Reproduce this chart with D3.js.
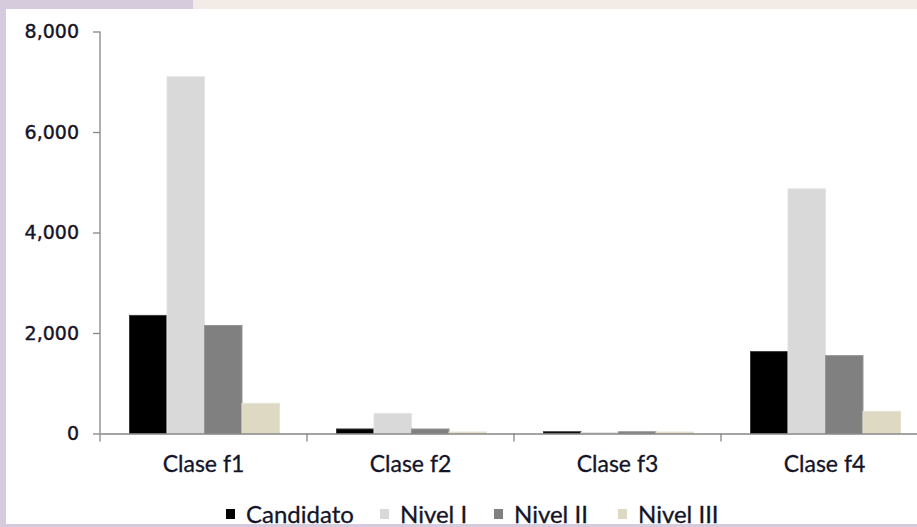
<!DOCTYPE html>
<html>
<head>
<meta charset="utf-8">
<script src="https://cdn.jsdelivr.net/npm/d3@7"></script>
<style>
  body { margin: 0; background: #d6cbdc; }
  svg { display: block; }
</style>
</head>
<body>
<svg id="chart" width="917" height="527"></svg>
<script>
// data
var categories = ["Clase f1", "Clase f2", "Clase f3", "Clase f4"];
var seriesNames = ["Candidato", "Nivel I", "Nivel II", "Nivel III"];
var candidato = [2350, 90, 35, 1630];
var nivelI = [7100, 400, 20, 4870];
var nivelII = [2150, 90, 35, 1550];
var nivelIII = [600, 30, 30, 440];
var yTicks = [0, 2000, 4000, 6000, 8000];

var seriesValues = [candidato, nivelI, nivelII, nivelIII];
var fills = ["#000000", "#d9d9d9", "#808080", "#ddd9c3"];
var strokes = ["#3a3a3a", "#e4e4e4", "#959595", "#e6e2d2"];

var svg = d3.select("#chart");

// background bits around the white panel
svg.append("rect").attr("x", 0).attr("y", 0).attr("width", 917).attr("height", 527).attr("fill", "#d6cbdc");
svg.append("rect").attr("x", 193).attr("y", 0).attr("width", 724).attr("height", 10).attr("fill", "#f3ebe6");
svg.append("rect").attr("x", 6).attr("y", 9).attr("width", 911).attr("height", 515).attr("fill", "#ffffff");

var left = 100, bandW = 207, y0 = 433.5, yTop = 31.5;

var x0 = d3.scaleBand()
  .domain(categories)
  .range([left, left + bandW * categories.length])
  .paddingInner(0)
  .paddingOuter(0);

var x1 = d3.scaleBand()
  .domain(seriesNames)
  .range([29.5, 179.5])
  .padding(0);

var y = d3.scaleLinear().domain([0, 8000]).range([y0, yTop]);

// rows for the bars
var rows = [];
categories.forEach(function (c, i) {
  seriesNames.forEach(function (s, j) {
    rows.push({ cat: c, series: s, idx: j, value: seriesValues[j][i] });
  });
});

svg.append("g")
  .selectAll("rect")
  .data(rows)
  .enter()
  .append("rect")
  .attr("x", function (d) { return x0(d.cat) + x1(d.series); })
  .attr("y", function (d) { return y(d.value); })
  .attr("width", x1.bandwidth())
  .attr("height", function (d) { return y0 - y(d.value); })
  .attr("fill", function (d) { return fills[d.idx]; })
  .attr("stroke", function (d) { return strokes[d.idx]; })
  .attr("stroke-width", 1);

// y axis
var yAxis = svg.append("g")
  .attr("transform", "translate(" + left + ",0)")
  .call(d3.axisLeft(y).tickValues(yTicks).tickFormat(d3.format(",")).tickSize(7).tickPadding(14));
yAxis.select(".domain").attr("stroke", "#868686").attr("stroke-width", 1.3).attr("d", "M0," + yTop + "V" + (y0 + 8));
yAxis.selectAll(".tick line").attr("stroke", "#868686").attr("stroke-width", 1.3);
yAxis.selectAll(".tick text")
  .attr("font-family", "DejaVu Sans")
  .attr("font-size", "19px")
  .attr("fill", "#141428")
  .attr("stroke", "#141428")
  .attr("stroke-width", 0.4);

// x axis: labels centred, tick marks on band edges
var xAxis = svg.append("g")
  .attr("transform", "translate(0," + y0 + ")")
  .call(d3.axisBottom(x0).tickSize(0).tickPadding(22));
xAxis.select(".domain").attr("stroke", "#868686").attr("stroke-width", 1.3);
xAxis.selectAll(".tick text")
  .attr("font-family", "Lato")
  .attr("font-size", "23px")
  .attr("fill", "#141428")
  .attr("stroke", "#141428")
  .attr("stroke-width", 0.3);

svg.append("g")
  .selectAll("line")
  .data(categories)
  .enter()
  .append("line")
  .attr("x1", function (d) { return x0(d) + bandW; })
  .attr("x2", function (d) { return x0(d) + bandW; })
  .attr("y1", y0)
  .attr("y2", y0 + 8)
  .attr("stroke", "#868686")
  .attr("stroke-width", 1.3);

// legend
var legendX = [226, 380, 494, 618];
var legend = svg.append("g")
  .selectAll("g")
  .data(seriesNames)
  .enter()
  .append("g")
  .attr("transform", function (d, i) { return "translate(" + legendX[i] + ",509)"; });

legend.append("rect")
  .attr("width", 9)
  .attr("height", 10)
  .attr("fill", function (d, i) { return fills[i]; });

legend.append("text")
  .attr("x", 20)
  .attr("y", 14)
  .attr("font-family", "Lato")
  .attr("font-size", "24px")
  .attr("fill", "#141428")
  .attr("stroke", "#141428")
  .attr("stroke-width", 0.3)
  .text(function (d) { return d; });
</script>
</body>
</html>
